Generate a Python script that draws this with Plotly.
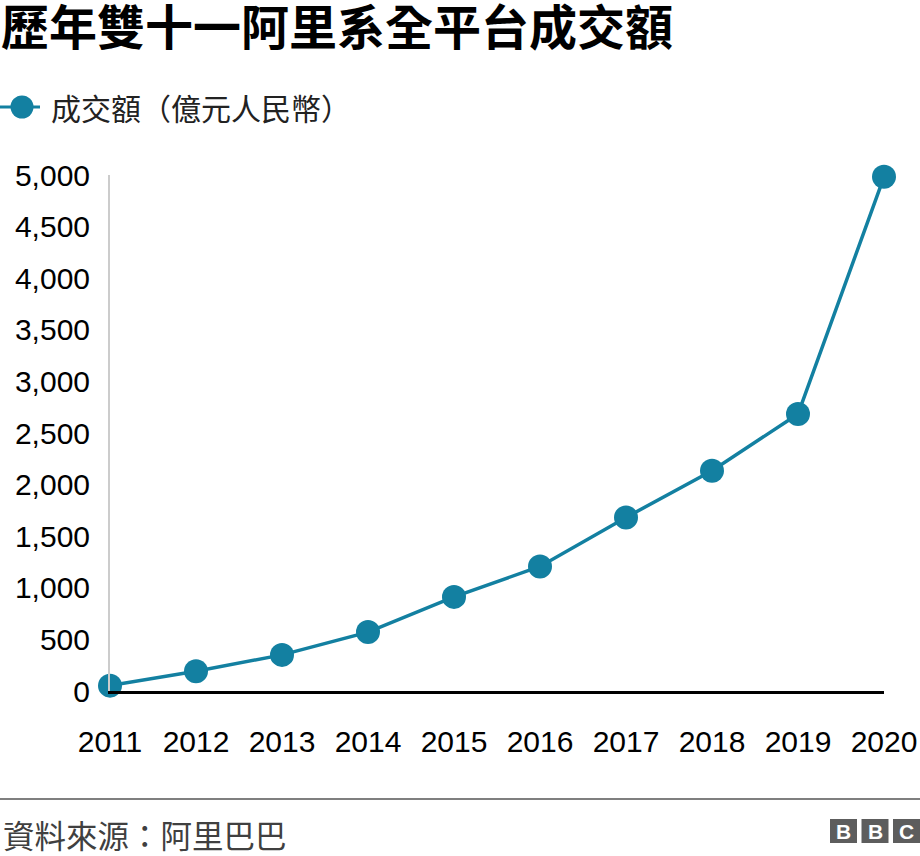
import plotly.graph_objects as go

years = [2011, 2012, 2013, 2014, 2015, 2016, 2017, 2018, 2019, 2020]
gmv = [52, 191, 350, 571, 912, 1207, 1682, 2135, 2684, 4982]
series_name = "成交額（億元人民幣）"
title_text = "歷年雙十一阿里系全平台成交額"
source_text = "資料來源：阿里巴巴"
y_ticks = [0, 500, 1000, 1500, 2000, 2500, 3000, 3500, 4000, 4500, 5000]

W, H = 920, 856
L, R, T, B = 110, 36, 175, 165
pw, ph = W - L - R, H - T - B


def px_x(x):
    return (x - L) / pw


def px_y(y):
    return (H - B - y) / ph


cjk = "Noto Sans CJK TC"
latin = "Liberation Sans, Arial, sans-serif"
teal = "#1380A1"

fig = go.Figure()
fig.add_trace(go.Scatter(
    x=years, y=gmv, mode="lines+markers", name=series_name,
    line=dict(color=teal, width=3.5),
    marker=dict(color=teal, size=24),
    cliponaxis=False, showlegend=False,
))

fig.update_layout(
    width=W, height=H,
    margin=dict(l=L, r=R, t=T, b=B, autoexpand=False),
    paper_bgcolor="white", plot_bgcolor="white",
    title=dict(text="<b>" + title_text + "</b>", x=1 / W, xanchor="left",
               y=1 - 28 / H, yanchor="middle", yref="container",
               font=dict(family=cjk, size=48, color="#000000")),
    xaxis=dict(range=[2011, 2020], tickmode="array", tickvals=years,
               ticktext=[str(y) for y in years], showgrid=False,
               zeroline=False, showline=True, linecolor="#000000", linewidth=3,
               ticks="", ticklabelstandoff=22, automargin=False,
               tickfont=dict(family=latin, size=30, color="#000000")),
    yaxis=dict(range=[0, 5000], tickmode="array", tickvals=y_ticks,
               ticktext=[f"{v:,}" for v in y_ticks], showgrid=False,
               zeroline=False, showline=True, linecolor="#cccccc", linewidth=2,
               ticks="", ticklabelstandoff=12, automargin=False,
               tickfont=dict(family=latin, size=30, color="#000000")),
)

# legend (drawn manually to match the reference's marker size)
fig.add_shape(type="line", xref="paper", yref="paper",
              x0=px_x(0), x1=px_x(40), y0=px_y(107), y1=px_y(107),
              line=dict(color=teal, width=3))
fig.add_shape(type="circle", xref="paper", yref="paper",
              x0=px_x(22 - 11.5), x1=px_x(22 + 11.5),
              y0=px_y(107 - 11.5), y1=px_y(107 + 11.5),
              fillcolor=teal, line=dict(width=0))
fig.add_annotation(text=series_name, xref="paper", yref="paper",
                   x=px_x(49), y=px_y(107), xanchor="left", yanchor="middle",
                   showarrow=False,
                   font=dict(family=cjk, size=30, color="#222222"))

# footer rule
fig.add_shape(type="line", xref="paper", yref="paper",
              x0=px_x(0), x1=px_x(W), y0=px_y(799), y1=px_y(799),
              line=dict(color="#7f7f7f", width=2))
fig.add_annotation(text=source_text, xref="paper", yref="paper",
                   x=px_x(1), y=px_y(834), xanchor="left", yanchor="middle",
                   showarrow=False,
                   font=dict(family=cjk, size=31.5, color="#404040"))

# BBC logo
box_w, gap = 27, 4.5
x_start = 830
for i, letter in enumerate("BBC"):
    x0 = x_start + i * (box_w + gap)
    fig.add_shape(type="rect", xref="paper", yref="paper",
                  x0=px_x(x0), x1=px_x(x0 + box_w),
                  y0=px_y(843), y1=px_y(819),
                  fillcolor="#5d5d5d", line=dict(width=0))
    fig.add_annotation(text="<b>" + letter + "</b>", xref="paper", yref="paper",
                       x=px_x(x0 + box_w / 2), y=px_y(831),
                       xanchor="center", yanchor="middle", showarrow=False,
                       font=dict(family=latin, size=21, color="white"))

fig.write_html("out.html", config={"displayModeBar": False},
               post_script="document.body.style.margin='0';document.body.style.padding='0';")
